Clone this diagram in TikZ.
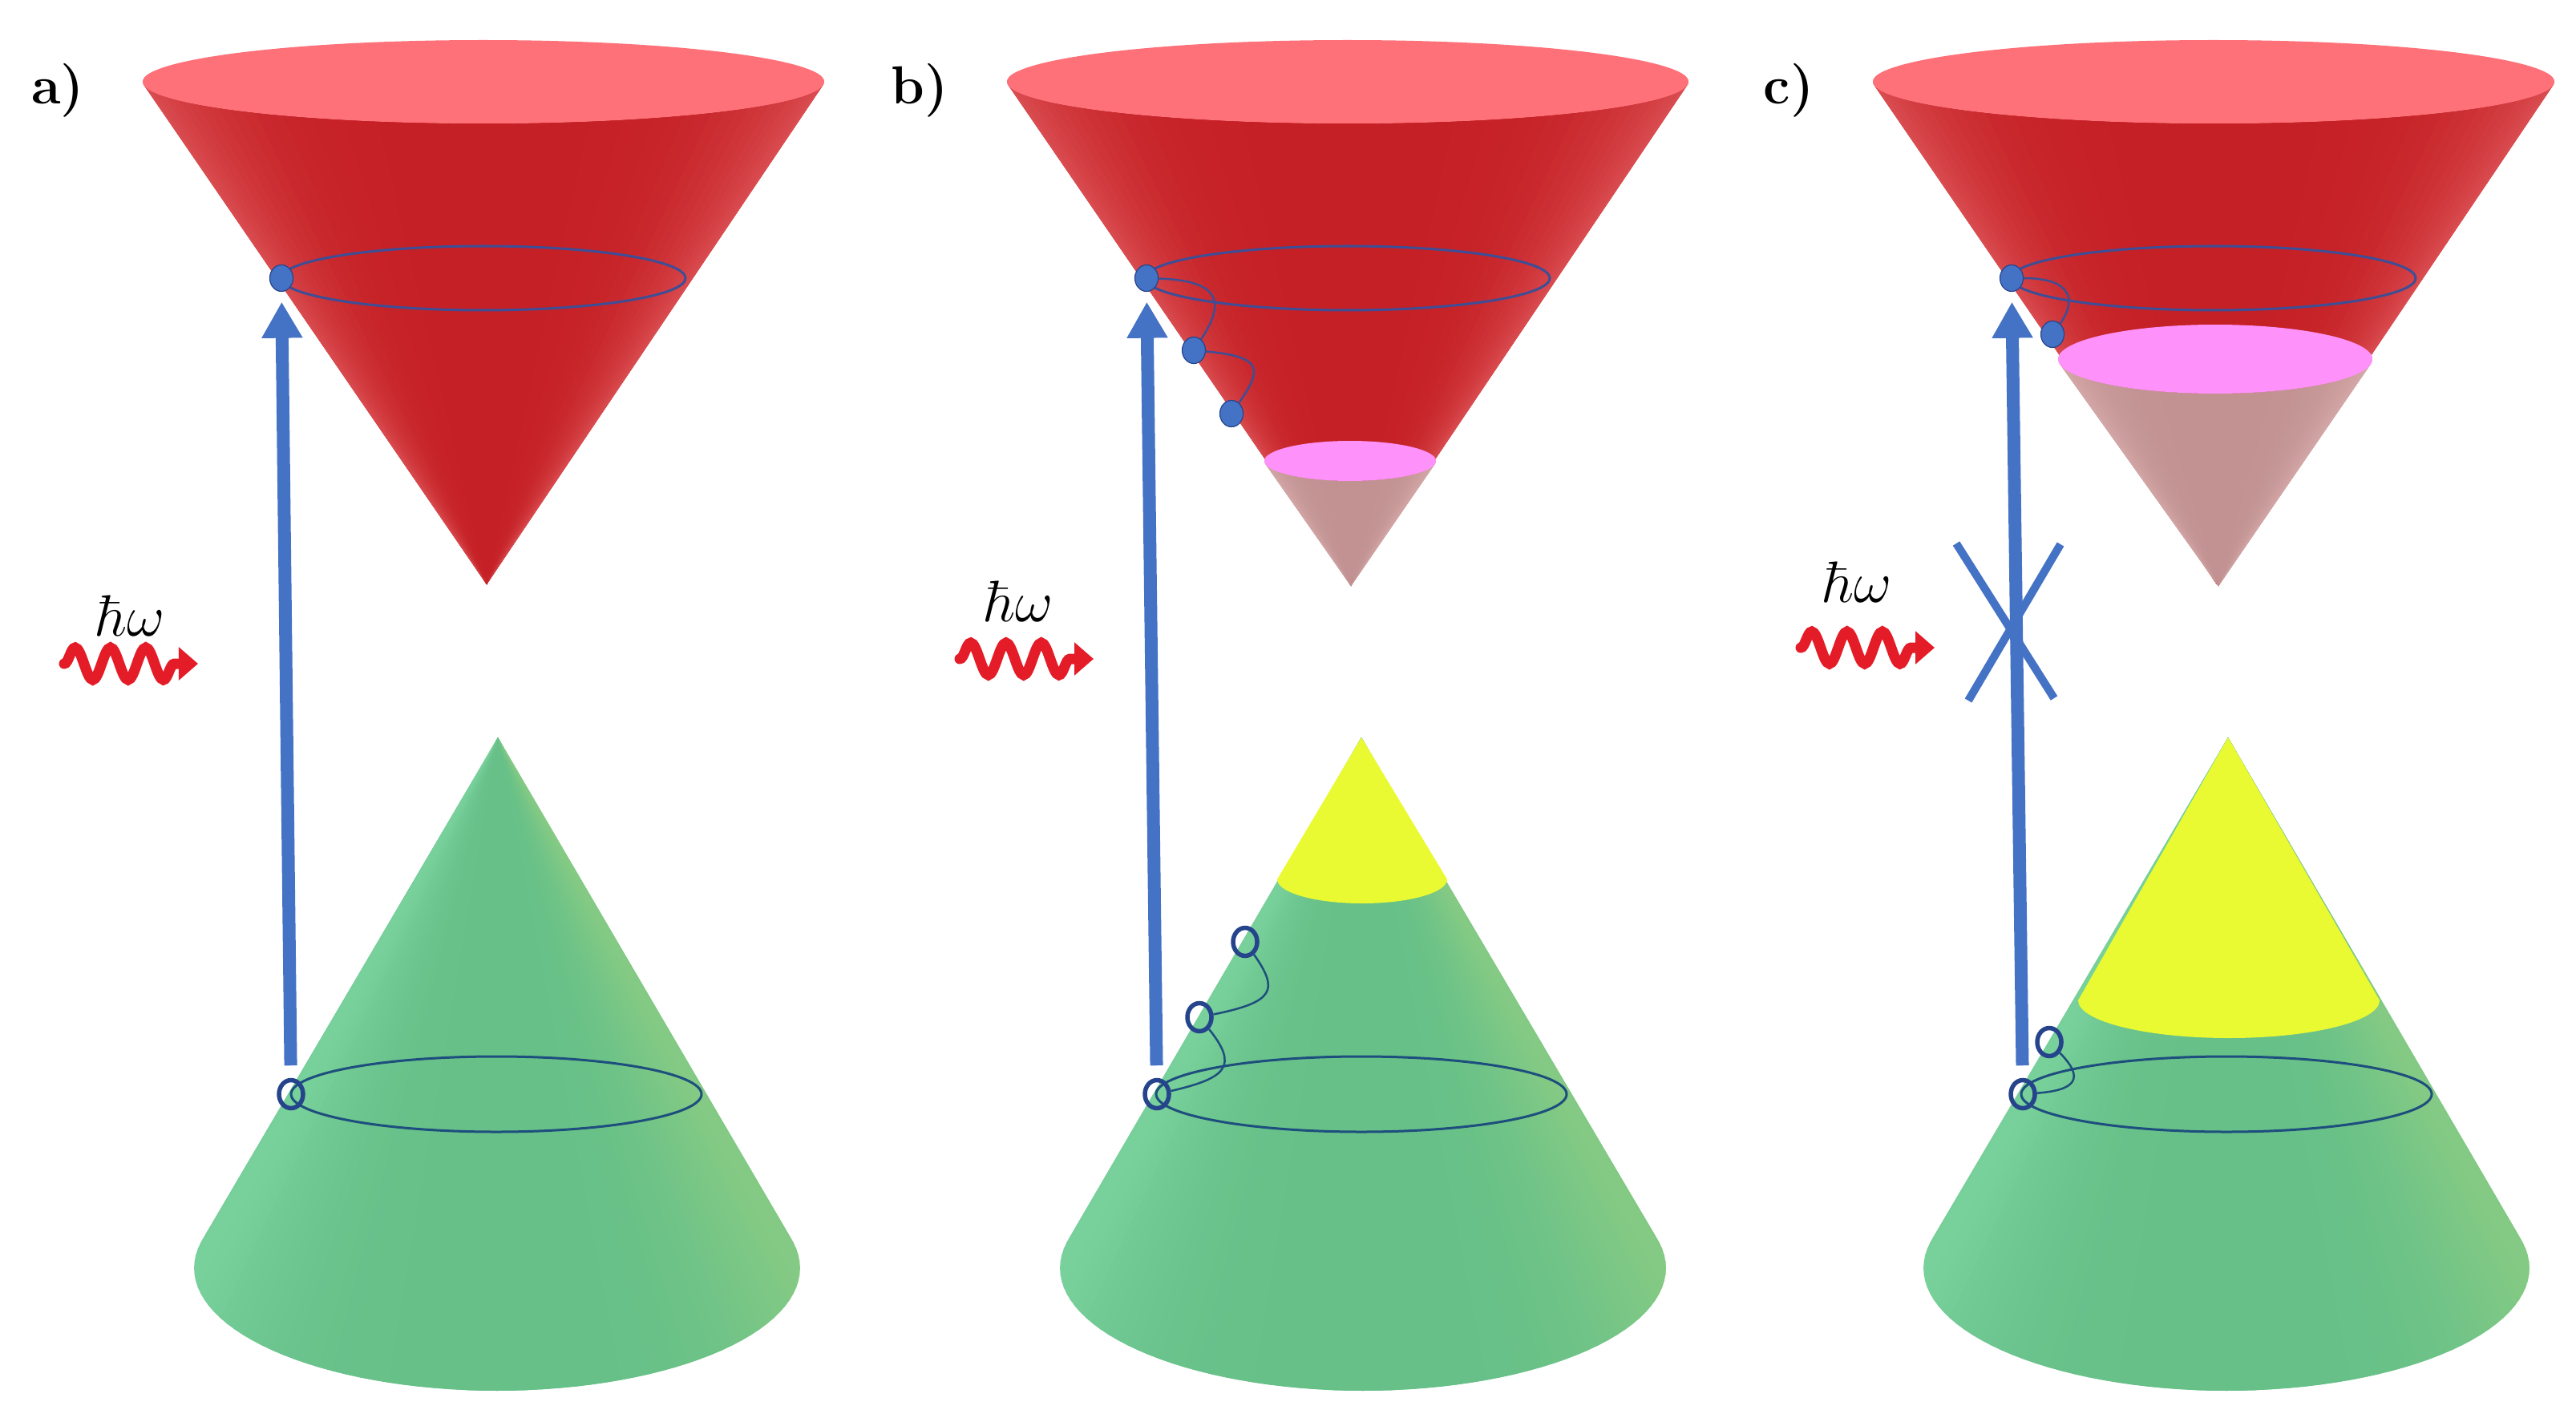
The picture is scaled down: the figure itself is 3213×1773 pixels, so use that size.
\documentclass[tikz,border=0pt]{standalone}
\usepackage{color}
\definecolor{myred}{RGB}{197,32,37}
\definecolor{myrededge}{RGB}{218,78,82}
\definecolor{mytop}{RGB}{255,113,121}
\definecolor{mypink}{RGB}{255,145,250}
\definecolor{mypale}{RGB}{194,146,146}
\definecolor{mypaleedge}{RGB}{214,170,170}
\definecolor{mygreen}{RGB}{102,192,136}
\definecolor{mygreenl}{RGB}{120,208,155}
\definecolor{mygreenr}{RGB}{132,202,132}
\definecolor{myyellow}{RGB}{234,250,50}
\definecolor{myblue}{RGB}{68,114,196}
\definecolor{myring}{RGB}{62,78,150}
\definecolor{myringg}{RGB}{30,78,125}
\definecolor{mydot}{RGB}{38,68,140}
\definecolor{mywave}{RGB}{228,28,40}
\usepackage{tikz}
\usetikzlibrary{arrows.meta,decorations.pathmorphing,shapes.geometric}

% apex x, apex y, centre x, centre y, rx, ry, left, middle, right
\newcommand{\conefan}[9]{
  \foreach \Off in {105,102,...,0} {
    \pgfmathsetmacro{\Pct}{100*abs(sin(\Off))^4}
    \fill[#7!\Pct!#8] (#1,#2) -- ({#3+#5*cos(90+\Off)},{#4+#6*sin(90+\Off)}) -- ({#3+#5*cos(84+\Off)},{#4+#6*sin(84+\Off)}) -- cycle;
    \fill[#9!\Pct!#8] (#1,#2) -- ({#3+#5*cos(90-\Off)},{#4+#6*sin(90-\Off)}) -- ({#3+#5*cos(96-\Off)},{#4+#6*sin(96-\Off)}) -- cycle;
  }
}

\begin{document}
\begin{tikzpicture}[
  x=0.01cm,
  y=-0.01cm,
  panellabel/.style={font=\fontsize{19}{21}\selectfont\bfseries, inner sep=0pt},
  hwlabel/.style={font=\fontsize{20}{22}\selectfont, inner sep=0pt},
  reddot/.style={draw=mydot, line width=0.012cm, fill=myblue, ellipse, inner sep=0pt, minimum width=0.29cm, minimum height=0.33cm},
  greendot/.style={draw=mydot, line width=0.055cm, ellipse, inner sep=0pt, minimum width=0.30cm, minimum height=0.35cm},
  redring/.style={draw=myring, line width=0.03cm},
  greenring/.style={draw=myringg, line width=0.03cm},
  hop/.style={draw=myring, line width=0.025cm},
  hopg/.style={draw=myringg, line width=0.025cm},
  pump/.style={draw=myblue, line width=0.16cm, shorten >=0.125cm, shorten <=0.155cm, -{Triangle[length=0.45cm,width=0.48cm]}},
  photon/.style={draw=mywave, line width=0.13cm, line cap=round, decorate,
    decoration={snake, segment length=0.44cm, amplitude=0.2cm}},
  photontip/.style={draw=mywave, line width=0.11cm, -{Triangle[length=0.24cm,width=0.4cm]}},
  cross/.style={draw=myblue, line width=0.1cm}
]
\useasboundingbox (0,0) rectangle (3213,1773);

% the cones
\foreach \Dx/\Dg/\Da in {0/620/621, 1078/1700/1698, 2158/2777/2779} {
  \conefan{607+\Dx}{729}{603+\Dx}{102}{425}{52}{myrededge}{myred}{myrededge}
  \fill[mytop] (603+\Dx,102) ellipse [x radius=425, y radius=52];
  \conefan{\Da}{920}{\Dg}{1582}{378}{153}{mygreenl}{mygreen}{mygreenr}
}

% empty part of the upper cones
\conefan{1685}{731}{1684}{575}{107}{25}{mypaleedge}{mypale}{mypaleedge}
\fill[mypink] (1684,575) ellipse [x radius=107, y radius=25];
\conefan{2767}{731}{2763}{448}{196}{43}{mypaleedge}{mypale}{mypaleedge}
\fill[mypink] (2763,448) ellipse [x radius=196, y radius=43];

% empty part of the lower cones
\fill[myyellow] (1698,920) -- (1593,1097) arc [start angle=180, end angle=0, x radius=106, y radius=30] -- cycle;
\fill[myyellow] (2779,920) -- (2592,1248) arc [start angle=180, end angle=0, x radius=188, y radius=47] -- cycle;

% rings
\foreach \Dx/\Dg in {0/619, 1078/1698, 2158/2777} {
  \draw[redring] (603+\Dx,347) ellipse [x radius=252, y radius=40];
  \draw[greenring] (\Dg,1365) ellipse [x radius=256, y radius=47];
}

% electrons and holes
\node[reddot] (upa) at (351,347) {};
\node[greendot] (lowa) at (363,1365) {};

\node[reddot] (upb) at (1430,347) {};
\node[reddot] (upb2) at (1489,437) {};
\node[reddot] (upb3) at (1536,516) {};
\node[greendot] (lowb) at (1443,1365) {};
\node[greendot] (lowb2) at (1496,1269) {};
\node[greendot] (lowb3) at (1553,1175) {};

\node[reddot] (upc) at (2509,347) {};
\node[reddot] (upc2) at (2560,417) {};
\node[greendot] (lowc) at (2523,1365) {};
\node[greendot] (lowc2) at (2556,1300) {};

% relaxation
\draw[hop] (upb) .. controls (1520,350) and (1530,375) .. (upb2);
\draw[hop] (upb2) .. controls (1575,445) and (1575,460) .. (upb3);
\draw[hop] (upc) .. controls (2585,347) and (2590,375) .. (upc2);
\draw[hopg] (lowb) .. controls (1530,1345) and (1545,1330) .. (lowb2);
\draw[hopg] (lowb2) .. controls (1590,1250) and (1595,1235) .. (lowb3);
\draw[hopg] (lowc) .. controls (2590,1360) and (2600,1345) .. (lowc2);

% pump arrows
\draw[pump] (lowa) -- (upa);
\draw[pump] (lowb) -- (upb);
\draw[pump] (lowc) -- (upc);

% blocked transition
\coordinate (crossa) at (2440,678);
\coordinate (crossb) at (2562,871);
\coordinate (crossc) at (2570,679);
\coordinate (crossd) at (2455,874);
\draw[cross] (crossa) -- (crossb);
\draw[cross] (crossc) -- (crossd);

% photons
\foreach \Name/\Wx/\Wy in {a/80/828, b/1197/822, c/2246/808} {
  \coordinate (wave\Name) at (\Wx,\Wy);
  \coordinate (bend\Name) at (\Wx+150,\Wy);
  \coordinate (tip\Name) at (\Wx+167,\Wy);
  \draw[photon] (wave\Name) -- (bend\Name);
  \draw[photontip] (bend\Name) -- (tip\Name);
}

\node[hwlabel] (hwa) at (163,768) {$\hbar\omega$};
\node[hwlabel] (hwb) at (1271,750) {$\hbar\omega$};
\node[hwlabel] (hwc) at (2317,726) {$\hbar\omega$};

\node[panellabel] (laba) at (72,113) {a)};
\node[panellabel] (labb) at (1147,113) {b)};
\node[panellabel] (labc) at (2231,113) {c)};
\end{tikzpicture}
\end{document}
